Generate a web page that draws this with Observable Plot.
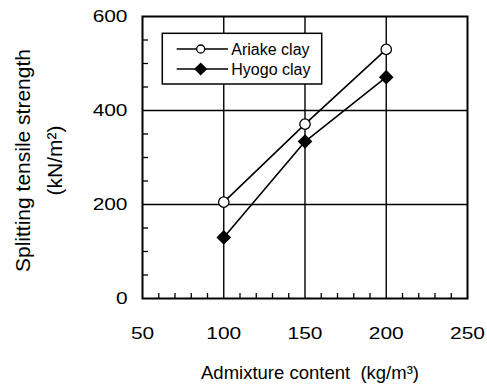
<!DOCTYPE html>
<html><head><meta charset="utf-8">
<script src="https://cdn.jsdelivr.net/npm/d3@7"></script>
<script src="https://cdn.jsdelivr.net/npm/@observablehq/plot@0.6"></script>
<style>body{margin:0;background:#fff;} svg{font-family:"Liberation Sans",Arial,sans-serif;}</style>
</head><body><div id="chart"></div>
<script>
// ---- data ----
const admixture = [100, 150, 200];
const ariake = [205, 371, 530];
const hyogo = [130, 334, 471];
const seriesNames = ["Ariake clay", "Hyogo clay"];
const xTicks = [50, 100, 150, 200, 250];
const yTicks = [0, 200, 400, 600];
const xGrid = [100, 150, 200];
const yGrid = [200, 400];
const xMinor = [60, 70, 80, 90, 110, 120, 130, 140, 160, 170, 180, 190, 210, 220, 230, 240];
const yMinor = [50, 100, 150, 250, 300, 350, 450, 500, 550];
const xTitle = "Admixture content\u00a0\u00a0(kg/m\u00b3)";
const yTitle1 = "Splitting tensile strength";
const yTitle2 = "(kN/m\u00b2)";

const rowsA = admixture.map((x, i) => ({x, y: ariake[i], s: seriesNames[0]}));
const rowsH = admixture.map((x, i) => ({x, y: hyogo[i], s: seriesNames[1]}));

const W = 487, H = 387;
const M = {left: 142, right: 20, top: 16, bottom: 89};
const plotW = W - M.left - M.right, plotH = H - M.top - M.bottom;

function legendMark(index, scales, values, dims) {
  const g = d3.create("svg:g").attr("text-anchor", "start");
  const x0 = dims.marginLeft + 20.3, y0 = dims.marginTop + 17.3;
  g.append("rect").attr("x", x0).attr("y", y0).attr("width", 159.4).attr("height", 50.7)
    .attr("fill", "white").attr("stroke", "black").attr("stroke-width", 1.5);
  seriesNames.forEach((name, i) => {
    const cy = y0 + 15.7 + i * 20;
    g.append("line").attr("x1", x0 + 14.4).attr("x2", x0 + 65.7).attr("y1", cy).attr("y2", cy)
      .attr("stroke", "black").attr("stroke-width", 1.5);
    if (i === 0) {
      g.append("circle").attr("cx", x0 + 38.4).attr("cy", cy).attr("r", 4)
        .attr("fill", "white").attr("stroke", "black").attr("stroke-width", 1.3);
    } else {
      g.append("path").attr("transform", `translate(${x0 + 38.4},${cy})`)
        .attr("d", d3.symbol(d3.symbolDiamond2, 110)()).attr("fill", "black");
    }
    g.append("text").attr("x", x0 + 69).attr("y", cy).attr("dy", "0.35em")
      .attr("text-anchor", "start")
      .attr("font-size", 16).attr("fill", "black").text(name);
  });
  return g.node();
}

const plot = Plot.plot({
  width: W, height: H,
  marginLeft: M.left, marginRight: M.right, marginTop: M.top, marginBottom: M.bottom,
  style: {fontFamily: "Liberation Sans, Arial, sans-serif", fontSize: "17px", color: "black", background: "white"},
  x: {domain: [50, 250]},
  y: {domain: [0, 600]},
  marks: [
    Plot.ruleX(xGrid, {x: d => d, stroke: "black", strokeWidth: 1.4}),
    Plot.ruleY(yGrid, {y: d => d, stroke: "black", strokeWidth: 1.4}),
    Plot.ruleX(xMinor, {x: d => d, stroke: "black", strokeWidth: 1.3, insetTop: plotH - 5}),
    Plot.ruleY(yMinor, {y: d => d, stroke: "black", strokeWidth: 1.3, insetRight: plotW - 6}),
    Plot.frame({stroke: "black", strokeWidth: 2}),
    Plot.line(rowsA, {x: "x", y: "y", stroke: "black", strokeWidth: 1.6}),
    Plot.line(rowsH, {x: "x", y: "y", stroke: "black", strokeWidth: 1.6}),
    Plot.dot(rowsH, {x: "x", y: "y", symbol: "diamond2", r: 6.6, fill: "black", stroke: "none"}),
    Plot.dot(rowsA, {x: "x", y: "y", symbol: "circle", r: 5.2, fill: "white", stroke: "black", strokeWidth: 1.3}),
    Plot.axisX({ticks: xTicks, tickSize: 0, tickPadding: 28, label: null, fontSize: 17}),
    Plot.axisY({ticks: yTicks, tickSize: 0, tickPadding: 15, label: null, fontSize: 17}),
    Plot.text([xTitle], {frameAnchor: "bottom", lineAnchor: "middle", textAnchor: "middle", dy: 75, dx: 5, fontSize: 18.5, ariaLabel: "x-title", fill: "black"}),
    Plot.text([yTitle1], {frameAnchor: "left", rotate: -90, textAnchor: "middle", lineAnchor: "middle", dx: 23 - M.left, dy: 3, fontSize: 21, fill: "black"}),
    Plot.text([yTitle2], {frameAnchor: "left", rotate: -90, textAnchor: "middle", lineAnchor: "middle", dx: 55 - M.left, dy: 3, fontSize: 21, fill: "black"}),
    legendMark
  ]
});

function stretch(sel, s) {
  plot.querySelectorAll(sel).forEach(t => {
    const x = +t.getAttribute("x") || 0;
    const tr = t.getAttribute("transform") || "";
    t.setAttribute("transform", `${tr} translate(${x},0) scale(${s},1) translate(${-x},0)`);
  });
}
stretch('g[aria-label="y-axis tick label"] text', 1.23);
stretch('g[aria-label="x-axis tick label"] text', 1.23);
stretch('g[aria-label="x-title"] text', 1.16);

document.getElementById("chart").appendChild(plot);
</script>
</body></html>
